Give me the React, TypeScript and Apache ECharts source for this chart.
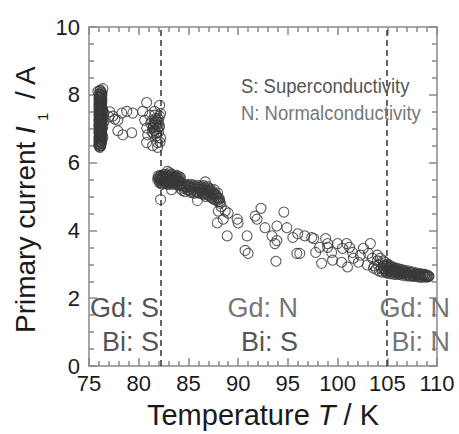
import React, { useEffect, useRef } from "react";
import * as echarts from "echarts";

// [T (K), I1 (A)]
const gdSuperColumn: number[][] = [
  [76.4, 8.18], [76.1, 8.12], [76.2, 8.08], [76.0, 8.02], [76.3, 7.98], [76.1, 7.93], [76.2, 7.88], [76.0, 7.83],
  [76.3, 7.79], [76.1, 7.74], [76.2, 7.70], [76.0, 7.65], [76.3, 7.61], [76.1, 7.56], [76.2, 7.52], [76.4, 7.48],
  [76.0, 7.44], [76.1, 7.40], [76.3, 7.36], [76.2, 7.31], [76.0, 7.27], [76.1, 7.23], [76.3, 7.19], [76.2, 7.14],
  [76.0, 7.10], [76.1, 7.06], [76.3, 7.02], [76.2, 6.97], [76.0, 6.93], [76.1, 6.89], [76.3, 6.85], [76.2, 6.80],
  [76.0, 6.76], [76.1, 6.72], [76.2, 6.68], [76.0, 6.64], [76.1, 6.60], [76.2, 6.56], [76.1, 6.52], [76.0, 6.48],
  [76.1, 6.45], [76.5, 7.45], [76.4, 7.30], [76.5, 7.20],
  [75.9, 8.10], [76.3, 8.05], [76.1, 8.00], [76.2, 7.96], [76.0, 7.91], [76.3, 7.86], [76.1, 7.81], [76.2, 7.76],
  [76.0, 7.72], [76.3, 7.67], [76.1, 7.63], [76.2, 7.58], [76.0, 7.54], [76.3, 7.50], [76.1, 7.46], [76.2, 7.42],
  [76.0, 7.38], [76.3, 7.33], [76.1, 7.29], [76.2, 7.25], [76.0, 7.21], [76.3, 7.16], [76.1, 7.12], [76.2, 7.08],
  [76.0, 7.04], [76.3, 6.99], [76.1, 6.95], [76.2, 6.91], [76.0, 6.87], [76.3, 6.82], [76.1, 6.78], [76.2, 6.74],
  [76.0, 6.70], [76.3, 6.66], [76.1, 6.62], [76.2, 6.58], [76.0, 6.54], [76.2, 6.50], [76.4, 7.55], [76.4, 7.05],
  [76.4, 6.75],
  [76.15, 8.14], [76.25, 8.01], [76.05, 7.95], [76.15, 7.90], [76.25, 7.84], [76.05, 7.77], [76.15, 7.71], [76.25, 7.64],
  [76.05, 7.59], [76.15, 7.53], [76.25, 7.47], [76.05, 7.41], [76.15, 7.35], [76.25, 7.28], [76.05, 7.22], [76.15, 7.17],
  [76.25, 7.11], [76.05, 7.05], [76.15, 7.00], [76.25, 6.94], [76.05, 6.88], [76.15, 6.83], [76.25, 6.77], [76.05, 6.71],
  [76.15, 6.65], [76.25, 6.60], [76.05, 6.55], [76.15, 6.49],
];

const gdSuperScatter: number[][] = [
  [77.1, 7.50], [77.0, 7.35], [77.4, 7.37], [77.6, 7.28], [77.9, 7.25], [78.3, 7.46], [78.8, 7.51], [79.4, 7.46],
  [77.9, 6.94], [78.4, 6.82], [79.3, 6.88],
];

const gdSuperEdge: number[][] = [
  [80.8, 7.77], [82.1, 7.69], [80.4, 7.51], [81.1, 7.40], [81.6, 7.51], [80.6, 7.25], [81.3, 7.23], [81.8, 7.25],
  [82.1, 7.37], [80.8, 7.02], [81.4, 7.02], [82.1, 7.08], [80.9, 6.82], [81.8, 6.79], [80.8, 6.59], [81.4, 6.50],
  [81.9, 6.59], [82.2, 6.73], [81.5, 7.10], [81.7, 7.15], [81.9, 7.00], [81.6, 6.95], [82.0, 7.20], [81.2, 7.15],
  [81.9, 6.45], [82.0, 6.90], [81.7, 7.30], [81.5, 6.85], [82.2, 7.45],
  [81.45, 7.05], [81.65, 7.20], [81.85, 7.10], [81.55, 6.95], [81.75, 6.88], [82.05, 7.05], [81.35, 6.90],
  [81.95, 7.30], [81.60, 7.40], [82.15, 6.60],
];

const gdNormalPlateau: number[][] = [
  [82.0, 5.55], [82.1, 5.40], [82.2, 5.62], [82.3, 5.48], [82.4, 5.36], [82.5, 5.58], [82.6, 5.45], [82.7, 5.65],
  [82.8, 5.38], [82.9, 5.52], [83.0, 5.60], [83.1, 5.42], [83.2, 5.50], [83.3, 5.66], [83.4, 5.37], [83.5, 5.55],
  [83.6, 5.46], [83.7, 5.60], [83.8, 5.40], [83.9, 5.50], [84.0, 5.35], [84.1, 5.45], [84.2, 5.55], [82.2, 5.50],
  [82.5, 5.44], [82.8, 5.55], [83.2, 5.38], [83.6, 5.52], [84.0, 5.48], [82.4, 5.60], [83.0, 5.35], [83.4, 5.48],
  [83.8, 5.56], [82.2, 4.91], [83.3, 5.20], [82.9, 5.74], [83.1, 5.70],
  [82.05, 5.47], [82.15, 5.58], [82.25, 5.42], [82.35, 5.53], [82.45, 5.64], [82.55, 5.39], [82.65, 5.51], [82.75, 5.59],
  [82.85, 5.45], [82.95, 5.62], [83.05, 5.41], [83.15, 5.55], [83.25, 5.63], [83.35, 5.44], [83.45, 5.58], [83.55, 5.40],
  [83.65, 5.57], [83.75, 5.47], [83.85, 5.62], [83.95, 5.43], [84.05, 5.53], [84.15, 5.38], [82.10, 5.52], [82.30, 5.37],
  [82.60, 5.55], [82.90, 5.42], [83.30, 5.56], [83.70, 5.35], [84.10, 5.58], [81.90, 5.50], [81.95, 5.60],
];

const gdNormalSlope: number[][] = [
  [84.3, 5.32], [84.5, 5.25], [84.7, 5.36], [84.9, 5.20], [85.1, 5.30], [85.3, 5.15], [85.5, 5.34], [85.7, 5.22],
  [85.9, 5.12], [86.1, 5.28], [86.3, 5.18], [86.5, 5.32], [84.4, 5.18], [84.8, 5.30], [85.2, 5.24], [85.6, 5.10],
  [86.0, 5.22], [86.4, 5.08], [85.9, 4.88], [86.7, 5.43],
  [84.25, 5.22], [84.35, 5.37], [84.55, 5.30], [84.65, 5.14], [84.75, 5.27], [84.95, 5.33], [85.05, 5.18], [85.15, 5.36],
  [85.25, 5.12], [85.35, 5.28], [85.45, 5.20], [85.65, 5.30], [85.75, 5.14], [85.85, 5.26], [85.95, 5.33], [86.05, 5.10],
  [86.15, 5.19], [86.25, 5.30], [86.35, 5.12], [86.45, 5.24], [86.55, 5.05],
  [86.6, 5.20], [86.8, 5.12], [87.0, 5.25], [87.1, 5.02], [87.2, 5.15], [87.4, 4.95], [87.5, 5.10], [87.6, 5.20],
  [87.7, 4.90], [87.8, 5.05], [87.9, 4.98], [88.0, 4.85], [88.1, 4.92], [88.2, 4.80], [88.3, 4.70], [86.7, 5.00],
  [87.3, 5.10], [86.9, 5.30],
  [86.65, 5.26], [86.75, 5.08], [86.85, 5.18], [86.95, 5.05], [87.05, 5.15], [87.15, 5.22], [87.25, 4.98], [87.35, 5.18],
  [87.45, 5.05], [87.55, 4.92], [87.65, 5.08], [87.75, 5.00], [87.85, 4.88], [87.95, 5.10], [88.05, 4.95], [88.15, 4.85],
];

const gdNormalScatter: number[][] = [
  [87.9, 4.22], [88.5, 4.33], [89.0, 4.51], [88.0, 4.57], [88.7, 4.57], [88.9, 3.84], [89.9, 4.33], [90.0, 4.22],
  [90.9, 3.84], [90.7, 3.41], [91.0, 3.32], [91.7, 4.42], [91.9, 4.33], [92.3, 4.65], [92.7, 4.08], [93.4, 3.84],
  [93.7, 3.61], [93.9, 3.70], [93.9, 4.13], [94.6, 4.54], [94.9, 4.08], [93.8, 3.09], [95.5, 3.79], [96.0, 3.90],
  [95.9, 3.32], [96.2, 3.32], [96.7, 3.84], [97.4, 3.79], [97.6, 3.76], [97.8, 3.35], [98.4, 3.03], [98.2, 3.50],
  [98.8, 3.76], [99.0, 3.61], [99.4, 3.35], [100.0, 3.61], [99.5, 3.12], [100.4, 3.06], [100.9, 3.61], [101.0, 2.92],
  [101.5, 3.35], [101.6, 3.18], [102.6, 3.47], [103.3, 3.61], [102.1, 3.06], [103.0, 2.98], [103.5, 3.18], [103.6, 2.89],
  [104.1, 2.98], [104.3, 3.18], [104.5, 2.77], [99.0, 3.50], [101.2, 3.50], [100.5, 3.47], [102.3, 3.27], [104.0, 3.27],
  [103.1, 3.32],
];

const biNormalTail: number[][] = [
  [104.6, 2.95], [104.7, 2.82], [104.8, 3.05], [104.9, 2.75], [105.0, 2.90], [105.1, 2.80], [105.2, 2.98], [105.3, 2.72],
  [105.4, 2.86], [105.5, 2.78], [105.6, 2.92], [105.7, 2.70], [105.8, 2.84], [105.9, 2.76], [106.0, 2.88], [106.1, 2.70],
  [106.2, 2.80], [106.3, 2.74], [106.4, 2.85], [106.5, 2.68], [106.6, 2.78], [106.7, 2.72], [106.8, 2.82], [106.9, 2.66],
  [107.0, 2.76], [107.1, 2.70], [107.2, 2.80], [107.3, 2.65], [107.4, 2.74], [107.5, 2.68], [107.6, 2.77], [107.7, 2.64],
  [107.8, 2.72], [107.9, 2.66], [108.0, 2.74], [108.1, 2.63], [108.2, 2.70], [108.3, 2.65], [108.4, 2.72], [108.5, 2.62],
  [108.6, 2.68], [108.7, 2.64], [108.8, 2.70], [108.9, 2.62], [109.0, 2.66], [109.1, 2.63], [104.4, 2.88], [104.2, 2.80],
  [103.9, 2.85], [104.0, 3.10], [103.7, 2.95], [104.6, 3.10], [105.0, 3.00],
  [104.65, 2.88], [104.75, 2.98], [104.85, 2.80], [104.95, 2.94], [105.05, 2.74], [105.15, 2.88], [105.25, 2.82], [105.35, 2.93],
  [105.45, 2.74], [105.55, 2.85], [105.65, 2.79], [105.75, 2.88], [105.85, 2.72], [105.95, 2.82], [106.05, 2.76], [106.15, 2.84],
  [106.25, 2.70], [106.35, 2.79], [106.45, 2.73], [106.55, 2.81], [106.75, 2.77], [106.95, 2.74], [107.15, 2.67], [107.35, 2.76],
  [107.55, 2.66], [107.75, 2.70], [107.95, 2.72], [108.15, 2.68], [108.35, 2.62], [108.55, 2.70], [108.75, 2.66], [108.95, 2.68],
  [109.15, 2.66], [109.20, 2.64],
];

const transitionTemps = [82.2, 104.9];
const xTicks = { min: 75, max: 110, interval: 5 };
const yTicks = { min: 0, max: 10, interval: 2 };

const FONT = '"Liberation Sans", Arial, Helvetica, sans-serif';
const AXIS_GRAY = "#8a8a8a";
const TITLE = "#1a1a1a";
const DARK_LABEL = "#555555";
const LIGHT_LABEL = "#777777";

export default function App() {
  const ref = useRef<HTMLDivElement>(null);

  useEffect(() => {
    if (!ref.current) return;
    const chart = echarts.init(ref.current, undefined, { renderer: "svg" });
    const lineStyle = { color: AXIS_GRAY, width: 1.5 };
    const baseAxis = (extra: any) => ({
      type: "value",
      splitLine: { show: false },
      axisLine: { show: true, onZero: false, lineStyle },
      axisTick: { show: true, inside: true, length: 8, lineStyle },
      ...extra,
    });
    const tickLabel = { fontSize: 22, color: TITLE, fontFamily: FONT };

    const txt = (
      text: string,
      x: number,
      y: number,
      size: number,
      color: string,
      align: string,
      extra: any = {}
    ) => ({
      type: "text",
      x,
      y,
      z: 100,
      ...extra,
      style: {
        text,
        fill: color,
        fontSize: size,
        fontFamily: FONT,
        align,
        textAlign: align,
        verticalAlign: "middle",
        textVerticalAlign: "middle",
        ...(extra.style || {}),
      },
    });

    const yTitle = {
      type: "group",
      x: 25,
      y: 333,
      rotation: Math.PI / 2,
      z: 100,
      children: [
        txt("Primary current", 0, 0, 28, TITLE, "left"),
        txt("I", 199, 0, 28, TITLE, "left", { style: { fontStyle: "italic" } }),
        txt("1", 212, 17, 15, TITLE, "left"),
        txt("/ A", 234, 0, 28, TITLE, "left"),
      ],
    };

    const option: any = {
      animation: false,
      grid: { left: 89, right: 22, top: 27, bottom: 61 },
      xAxis: [
        baseAxis({
          ...xTicks,
          position: "bottom",
          minorTick: { show: true, splitNumber: 5, length: 5, lineStyle },
          axisLabel: { ...tickLabel, margin: 6 },
          name: "{n|Temperature }{i|T}{n| / K}",
          nameLocation: "middle",
          nameGap: 34,
          nameTextStyle: {
            rich: {
              n: { fontSize: 29, fontFamily: FONT, color: TITLE },
              i: { fontSize: 29, fontFamily: FONT, color: TITLE, fontStyle: "italic" },
            },
          },
        }),
        baseAxis({
          ...xTicks,
          position: "top",
          minorTick: { show: true, splitNumber: 5, length: 5, lineStyle },
          axisLabel: { show: false },
        }),
      ],
      yAxis: [
        baseAxis({
          ...yTicks,
          position: "left",
          minorTick: { show: true, splitNumber: 4, length: 5, lineStyle },
          axisLabel: { ...tickLabel, margin: 9, padding: [0, 0, 7, 0] },
        }),
        baseAxis({
          ...yTicks,
          position: "right",
          minorTick: { show: true, splitNumber: 4, length: 5, lineStyle },
          axisLabel: { show: false },
        }),
      ],
      series: [
        {
          type: "scatter",
          xAxisIndex: 0,
          yAxisIndex: 0,
          symbol: "circle",
          symbolSize: 10,
          itemStyle: { color: "rgba(0,0,0,0)", borderColor: "#383838", borderWidth: 1.1 },
          data: [
            ...gdSuperColumn,
            ...gdSuperScatter,
            ...gdSuperEdge,
            ...gdNormalPlateau,
            ...gdNormalSlope,
            ...gdNormalScatter,
            ...biNormalTail,
          ],
          markLine: {
            silent: true,
            symbol: ["none", "none"],
            label: { show: false },
            lineStyle: { color: "#333333", width: 1.5, type: [6, 4] },
            data: transitionTemps.map((t) => ({ xAxis: t })),
          },
        },
      ],
      graphic: [
        yTitle,
        txt("S: Superconductivity", 241, 97, 18.5, DARK_LABEL, "left", { scaleY: 1.12, originY: 97 }),
        txt("N: Normalconductivity", 241, 128, 18.5, LIGHT_LABEL, "left", { scaleY: 1.12, originY: 128 }),
        txt("Gd: S", 159, 308, 27, DARK_LABEL, "right"),
        txt("Bi: S", 159, 342, 27, DARK_LABEL, "right"),
        txt("Gd: N", 298, 308, 27, LIGHT_LABEL, "right"),
        txt("Bi: S", 298, 342, 27, DARK_LABEL, "right"),
        txt("Gd: N", 450, 308, 27, LIGHT_LABEL, "right"),
        txt("Bi: N", 450, 342, 27, LIGHT_LABEL, "right"),
      ],
    };
    chart.setOption(option);
    return () => chart.dispose();
  }, []);

  return (
    <div
      ref={ref}
      style={{ position: "fixed", left: 0, top: 0, width: 459, height: 434, background: "#ffffff" }}
    />
  );
}
